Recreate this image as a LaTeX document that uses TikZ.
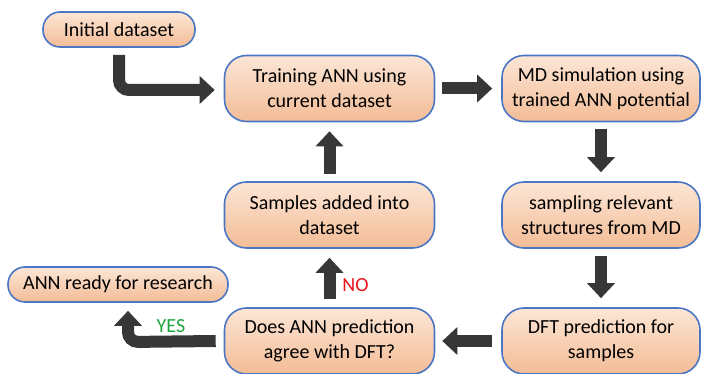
\documentclass[tikz,border=0pt]{standalone}
\usepackage{fontspec}
\setmainfont{Carlito}
\usetikzlibrary{arrows.meta}
\definecolor{bordc}{HTML}{4A76C4}
\definecolor{filltop}{HTML}{FCE6D6}
\definecolor{fillbot}{HTML}{F3BC96}
\definecolor{arr}{HTML}{373737}
\definecolor{nored}{HTML}{E8141B}
\definecolor{yesgreen}{HTML}{1EA53C}
\tikzset{
  pill/.style={draw=bordc, line width=1.6pt, top color=filltop, bottom color=fillbot,
    rounded corners=17pt, minimum height=35pt, inner sep=0pt, font=\fontsize{20}{24}\selectfont},
  bigbox/.style={draw=bordc, line width=1.6pt, top color=filltop, bottom color=fillbot,
    rounded corners=22pt, minimum width=210pt, minimum height=66pt, inner sep=0pt,
    align=center, font=\fontsize{20}{25}\selectfont},
  fat/.style={draw=arr, line width=12pt, -{Triangle[length=15pt,width=27pt]}, arr},
  lbl/.style={font=\fontsize{20}{22}\selectfont}
}
\begin{document}
\begin{tikzpicture}[x=1pt,y=-1pt]
\useasboundingbox (0,0) rectangle (702,374);
\node[pill, minimum width=152pt] (init) at (119,29.5) {Initial dataset};
\node[bigbox] (train) at (329.5,88.5) {Training ANN using\\current dataset};
\node[bigbox, minimum width=198pt] (md) at (601,88.5) {MD simulation using\\trained ANN potential};
\node[bigbox, minimum width=198pt] (samp) at (601,215) {sampling relevant\\structures from MD};
\node[bigbox] (added) at (329.5,215) {Samples added into\\dataset};
\node[pill, minimum width=220pt] (ready) at (118,284.5) {ANN ready for research};
\node[bigbox] (agree) at (329.5,341) {Does ANN prediction\\agree with DFT?};
\node[bigbox, minimum width=198pt] (dft) at (601,341) {DFT prediction for\\samples};

\coordinate (b1) at (119,90);
\draw[fat, rounded corners=10pt] (119,55) -- (b1) -- ([xshift=-9pt]train.west |- b1);
\draw[fat] ([xshift=7pt]train.east) -- ([xshift=-9pt]md.west);
\draw[fat] ([yshift=-7pt]md.south) -- ([yshift=9pt]samp.north);
\draw[fat] ([yshift=-7pt]samp.south) -- ([yshift=9pt]dft.north);
\draw[fat] ([xshift=-9pt]dft.west) -- ([xshift=7pt]agree.west -| agree.east);
\draw[fat] ([yshift=8pt]agree.north) -- ([yshift=-9pt]added.south);
\node[lbl, text=nored] (no) at (355.5,285.5) {NO};
\draw[fat] ([yshift=7pt]added.north) -- ([yshift=-9pt]train.south);
\coordinate (b2) at (128,342);
\draw[fat, rounded corners=10pt] ([xshift=-8pt]agree.west) -- (b2) -- ([yshift=-8pt]ready.south -| b2);
\node[lbl, text=yesgreen] (yes) at (171,326) {YES};
\end{tikzpicture}
\end{document}
